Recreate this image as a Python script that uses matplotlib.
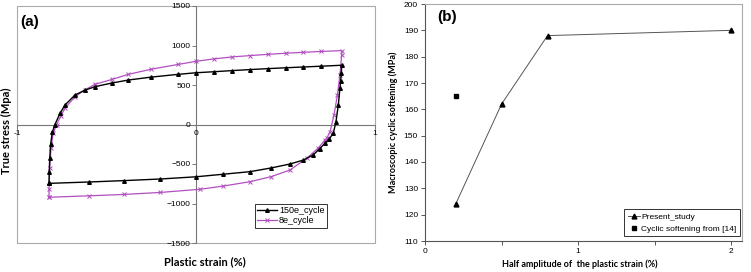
import matplotlib.pyplot as plt
import matplotlib as mpl

mpl.rcParams['font.family'] = ['Liberation Sans', 'DejaVu Sans']

# (a) hysteresis loops
strain_150 = [-0.821, -0.820, -0.817, -0.812, -0.803, -0.788, -0.76, -0.732, -0.676, -0.62,
              -0.564, -0.47, -0.378, -0.25, -0.099, 0.0, 0.1, 0.2, 0.3, 0.4, 0.5, 0.6,
              0.7, 0.814,
              0.812, 0.808, 0.804, 0.795, 0.782, 0.767, 0.745, 0.72, 0.69, 0.654, 0.6,
              0.525, 0.42, 0.302, 0.15, 0.0, -0.2, -0.4, -0.6, -0.821]
stress_150 = [-745, -600, -420, -250, -100, 0, 140, 247, 373, 435,
              479, 525, 563, 600, 635, 655, 668, 682, 695, 707, 718, 728,
              738, 750,
              650, 550, 458, 247, 35, -111, -180, -238, -310, -386, -450,
              -500, -550, -597, -630, -662, -690, -710, -728, -745]
strain_8 = [-0.821, -0.821, -0.817, -0.81, -0.798, -0.778, -0.755, -0.732, -0.676, -0.62,
            -0.564, -0.47, -0.378, -0.25, -0.1, 0.0, 0.1, 0.2, 0.3, 0.4, 0.5, 0.6,
            0.7, 0.814,
            0.814, 0.804, 0.79, 0.771, 0.749, 0.73, 0.72, 0.682, 0.618, 0.525, 0.42,
            0.302, 0.15, 0.022, -0.2, -0.4, -0.6, -0.821]
stress_8 = [-921, -820, -550, -300, -110, 0, 110, 205, 352, 440,
            509, 570, 635, 700, 760, 800, 830, 855, 872, 888, 902, 914,
            925, 935,
            880, 627, 373, 120, -91, -175, -196, -301, -428, -576, -660,
            -724, -780, -820, -860, -885, -903, -921]

# (b) cyclic softening
amp_present = [0.2, 0.5, 0.8, 2.0]
soft_present = [124, 162, 188, 190]
amp_ref = [0.2]
soft_ref = [165]

dpi = 100
fig = plt.figure(figsize=(751 / dpi, 272 / dpi), dpi=dpi)
ax1 = fig.add_axes([17 / 751, 1 - 243 / 272, 358 / 751, 237 / 272])
ax2 = fig.add_axes([425 / 751, 1 - 241 / 272, 317 / 751, 237 / 272])

lab_font = dict(family=['Lato', 'DejaVu Sans'], fontweight='bold')

# ---- panel (a)
ax1.plot(strain_150, stress_150, color='black', lw=1.0, marker='^', ms=2.6,
         label='150e_cycle', zorder=3)
ax1.plot(strain_8, stress_8, color='#b24fc0', lw=0.9, marker='x', ms=2.2, mew=0.7,
         label='8e_cycle', zorder=2)
ax1.set_xlim(-1, 1)
ax1.set_ylim(-1500, 1500)
ax1.spines['left'].set_position(('data', 0))
ax1.spines['bottom'].set_position(('data', 0))
for s in ['left', 'bottom']:
    ax1.spines[s].set_color('#777777')
    ax1.spines[s].set_linewidth(0.8)
    ax1.spines[s].set_zorder(1)
for s in ['top', 'right']:
    ax1.spines[s].set_visible(False)
ax1.add_patch(plt.Rectangle((0, 0), 1, 1, transform=ax1.transAxes, fill=False,
                            ec='#aaaaaa', lw=0.8, clip_on=False))
ax1.set_xticks([-1, 0, 1])
ax1.set_yticks(range(-1500, 1501, 500))
ax1.tick_params(axis='both', labelsize=6, length=3, width=0.7, color='#777777', pad=1,
                direction='out')
ax1.set_xticklabels(['-1', '0', '1'])
fig.text(205 / 751, 1 - 262 / 272, 'Plastic strain (%)', ha='center', va='center',
         fontsize=8, **lab_font)
fig.text(6 / 751, 0.52, 'True stress (Mpa)', rotation=90, ha='center', va='center',
         fontsize=8, **lab_font)
ax1.text(0.01, 0.96, '(a)', transform=ax1.transAxes, fontsize=11, fontweight='bold',
         va='top', ha='left')
leg1 = ax1.legend(loc='lower right', bbox_to_anchor=(0.865, 0.065), fontsize=6.5,
                  frameon=True, fancybox=False, edgecolor='black', handlelength=2.2,
                  handletextpad=0.2, borderpad=0.25, labelspacing=0.1, borderaxespad=0)
leg1.get_frame().set_linewidth(0.7)

# ---- panel (b)
ax2.plot(amp_present, soft_present, color='#555555', lw=0.7, marker='^', ms=3.5,
         mfc='black', mec='black', label='Present_study')
ax2.plot(amp_ref, soft_ref, color='black', lw=0.7, marker='s', ms=3.2, ls='none',
         label='Cyclic softening from [14]')
ax2.set_xlim(0, 2.07)
ax2.set_ylim(110, 200)
ax2.set_xticks([0, 1, 2])
ax2.set_xticks([0.5, 1.5], minor=True)
ax2.set_yticks(range(110, 201, 10))
for s in ['left', 'bottom']:
    ax2.spines[s].set_color('#555555')
    ax2.spines[s].set_linewidth(0.8)
for s in ['top', 'right']:
    ax2.spines[s].set_color('#aaaaaa')
    ax2.spines[s].set_linewidth(0.8)
ax2.tick_params(axis='both', which='both', labelsize=6, length=3, width=0.7,
                color='#555555', direction='out', pad=2)
fig.text(580 / 751, 1 - 264 / 272, 'Half amplitude of  the plastic strain (%)',
         ha='center', va='center', fontsize=6.5, **lab_font)
ax2.set_ylabel('Macroscopic cyclic softening (MPa)', fontsize=6.5, labelpad=4,
               **lab_font)
ax2.text(0.04, 0.975, '(b)', transform=ax2.transAxes, fontsize=11, fontweight='bold',
         va='top', ha='left')
leg2 = ax2.legend(loc='lower right', bbox_to_anchor=(0.995, 0.02), fontsize=6,
                  frameon=True, fancybox=False, edgecolor='black', handlelength=1.4,
                  handletextpad=0.2, borderpad=0.45, labelspacing=0.5, borderaxespad=0)
leg2.get_frame().set_linewidth(0.7)

fig.savefig('out.png', dpi=dpi)
